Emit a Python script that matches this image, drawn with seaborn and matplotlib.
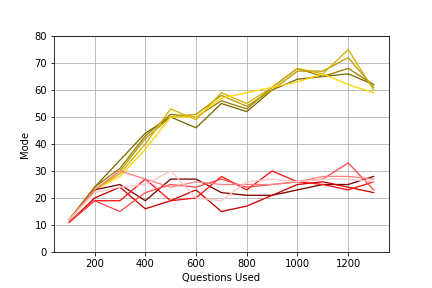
import pandas as pd
import numpy as np
import matplotlib
matplotlib.use("Agg")
import matplotlib.pyplot as plt
import seaborn as sns

# -------------------------
# Datos
# -------------------------
questions = [100, 200, 300, 400, 500, 600, 700, 800, 900, 1000, 1100, 1200, 1300]

# serie dorada (modo alto)
gold_a = [12, 24, 34, 44, 50, 46, 55, 52, 60, 64, 65, 66, 62]
gold_b = [12, 24, 31, 43, 51, 50, 56, 53, 61, 68, 65, 68, 62]
gold_c = [12, 23, 30, 42, 50, 51, 58, 54, 60, 67, 67, 72, 61]
gold_d = [12, 23, 29, 40, 53, 49, 59, 55, 61, 68, 66, 75, 60]
gold_e = [12, 23, 28, 38, 50, 50, 57, 59, 61, 63, 66, 62, 59]

# serie roja (modo bajo)
red_a = [12, 23, 25, 19, 27, 27, 22, 21, 21, 23, 25, 25, 28]
red_b = [11, 20, 24, 16, 19, 23, 15, 17, 21, 25, 26, 24, 22]
red_c = [11, 19, 19, 27, 19, 20, 28, 23, 30, 26, 25, 23, 26]
red_d = [11, 19, 15, 22, 25, 24, 27, 24, 25, 26, 27, 33, 23]
red_e = [12, 23, 30, 27, 24, 26, 25, 25, 25, 26, 28, 28, 27]
red_f = [12, 22, 24, 25, 30, 20, 19, 26, 27, 26, 27, 27, 26]

series = {
    "gold_a": gold_a, "gold_b": gold_b, "gold_c": gold_c,
    "gold_d": gold_d, "gold_e": gold_e,
    "red_a": red_a, "red_b": red_b, "red_c": red_c,
    "red_d": red_d, "red_e": red_e, "red_f": red_f,
}

colors = {
    "gold_a": "#7a6800", "gold_b": "#968000", "gold_c": "#b89a00",
    "gold_d": "#d4b000", "gold_e": "#ffd400",
    "red_a": "#7a0000", "red_b": "#cc0000", "red_c": "#ff1010",
    "red_d": "#ff4a4a", "red_e": "#ff8080", "red_f": "#ffc4c4",
}

rows = []
for name, vals in series.items():
    for q, v in zip(questions, vals):
        rows.append({"run": name, "Questions Used": q, "Mode": v})
df = pd.DataFrame(rows)

# -------------------------
# Gráfico
# -------------------------
fig, ax = plt.subplots(figsize=(6, 4), dpi=72)
fig.subplots_adjust(left=0.125, right=0.9, top=0.875, bottom=0.125)

sns.lineplot(data=df, x="Questions Used", y="Mode", hue="run",
             palette=colors, linewidth=1.3, legend=False, ax=ax)

ax.set_ylim(0, 80)
ax.set_xticks([200, 400, 600, 800, 1000, 1200])
ax.grid(True, color="#b0b0b0", linewidth=0.8)
ax.set_axisbelow(True)
for s in ax.spines.values():
    s.set_color("black")

fig.savefig("out.png", dpi=72)
